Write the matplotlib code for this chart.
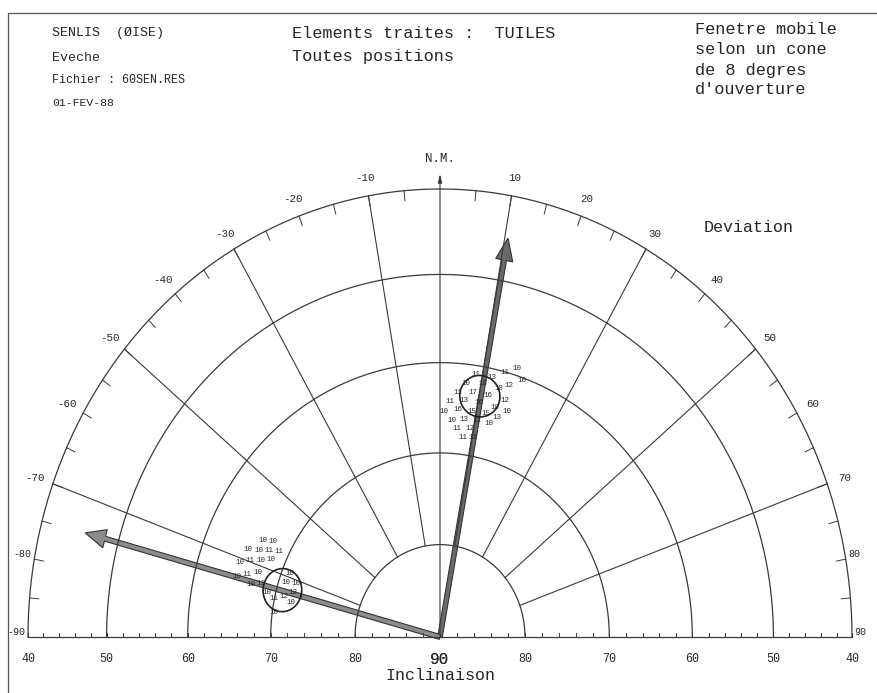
import numpy as np
import matplotlib
matplotlib.use("Agg")
import matplotlib.pyplot as plt
from matplotlib.patches import FancyArrow


# grid of the equal-area half diagram
RINGS = [40, 50, 60, 70, 80]
SPOKES = [-70, -50, -30, -10, 10, 30, 50, 70]
DEV_TICKS = [-90, -80, -70, -60, -50, -40, -30, -20, -10, 10, 20, 30, 40, 50, 60, 70, 80, 90]
INC_LABELS = [40, 50, 60, 70, 80, 90]

# window counts, cluster 1 (upper)
C1_INC = [59.2, 60.1, 60.3, 61.0, 61.0, 61.3, 62.1, 61.9, 62.0, 63.2, 63.0, 63.0, 63.1,
          64.3, 64.1, 64.0, 64.1, 65.4, 65.1, 65.1, 65.0, 64.2, 66.4, 66.2, 66.0, 66.0,
          65.1, 67.2, 67.0, 68.1, 67.9]
C1_DEV = [17.4, 14.9, 19.1, 8.5, 12.4, 16.7, 6.4, 10.5, 14.6, 4.5, 8.3, 12.2, 16.6,
          2.6, 6.4, 10.2, 14.6, 1.2, 4.9, 8.8, 12.7, 18.0, 3.4, 6.9, 10.5, 14.1,
          15.8, 5.2, 8.8, 7.1, 10.2]
C1_N = [10, 11, 10, 11, 13, 12, 10, 18, 18, 11, 17, 16, 12,
        11, 13, 16, 18, 10, 16, 15, 15, 10, 10, 13, 12, 10,
        13, 11, 12, 11, 11]

# window counts, cluster 2 (left)
C2_INC = [66.6, 67.7, 65.4, 66.6, 67.7, 68.8, 64.9, 66.0, 67.2, 68.3, 65.0, 66.2,
          67.4, 66.9, 68.0, 71.0, 70.9, 72.0, 69.0, 70.0, 71.1, 72.0, 72.0, 70.2]
C2_DEV = [-63.4, -62.1, -67.3, -66.3, -65.1, -63.9, -71.0, -69.8, -68.5, -67.3, -74.6, -73.3,
          -72.0, -75.8, -74.6, -68.8, -71.9, -71.0, -76.7, -77.9, -76.4, -74.3, -78.0, -82.4]
C2_N = [10, 10, 10, 10, 11, 11, 10, 11, 10, 10, 10, 11,
        10, 10, 11, 10, 10, 10, 10, 11, 12, 12, 10, 10]

# mean directions, confidence cones and arrows
MEAN_INC = [63.3, 70.7]
MEAN_DEV = [10.2, -74.7]
CONE = [2.3, 2.3]
ARROW_INC = [45.0, 45.7]
ARROW_DEV = [10.5, -74.9]
ARROW_FILL = ["#6a6a6a", "#8c8c8c"]

HEADER_LEFT = ["SENLIS  (ØISE)", "Eveche", "Fichier : 60SEN.RES", "01-FEV-88"]
HEADER_MID = ["Elements traites :  TUILES", "Toutes positions"]
HEADER_RIGHT = ["Fenetre mobile", "selon un cone", "de 8 degres", "d'ouverture"]

INK = "#3a3a3a"
TXT = "#262626"
FONT = "Liberation Mono"
R40 = np.sin(np.radians(25))


def proj(inc, dev):
    r = np.sin(np.radians((90 - np.asarray(inc, float)) / 2)) / R40
    d = np.radians(np.asarray(dev, float))
    return r * np.sin(d), r * np.cos(d)


def small_circle(inc, dev, a):
    b = np.radians(np.linspace(0, 360, 181))
    lat1, lon1, a = np.radians(inc), np.radians(dev), np.radians(a)
    lat2 = np.arcsin(np.sin(lat1) * np.cos(a) + np.cos(lat1) * np.sin(a) * np.cos(b))
    lon2 = lon1 + np.arctan2(np.sin(b) * np.sin(a) * np.cos(lat1),
                             np.cos(a) - np.sin(lat1) * np.sin(lat2))
    return np.degrees(lat2), np.degrees(lon2)


fig = plt.figure(figsize=(8.77, 6.93), dpi=100)
ax = fig.add_axes([0, 0, 1, 1])
ax.set_xlim(-440 / 412, 437 / 412)
ax.set_ylim(-56 / 448, 637 / 448)
ax.axis("off")

# frame
ax.plot([-432 / 412, -432 / 412, 1.2], [-0.2, 624 / 448, 624 / 448], color="#555", lw=0.9)

# rings
dev_line = np.linspace(-90, 90, 361)
for inc in RINGS:
    x, y = proj(np.full_like(dev_line, inc), dev_line)
    ax.plot(x, y, color=INK, lw=0.9)

# spokes
for d in SPOKES:
    x, y = proj([80, 40], [d, d])
    ax.plot(x, y, color=INK, lw=0.8)

# baseline and inclination ticks
x, y = proj([40, 90, 40], [-90, 0, 90])
ax.plot(x, y, color=INK, lw=0.9)
for inc in range(40, 90, 2):
    for d in (-90, 90):
        x, y = proj(inc, d)
        ax.plot([x, x], [y, y + 0.009], color=INK, lw=0.7)
for inc in INC_LABELS:
    for d in (-90, 90):
        x, _ = proj(inc, d)
        size = 11.5 if inc == 90 else 8.4
        ax.text(x, -0.05, str(inc), ha="center", va="center", fontsize=size,
                family=FONT, color=TXT)
ax.text(0, -0.087, "Inclinaison", ha="center", va="center", fontsize=12,
        family=FONT, color=TXT)

# deviation ticks on outer ring
for d in range(-85, 90, 5):
    if d == 0:
        continue
    x0, y0 = proj(40, d)
    x1, y1 = proj(41.2, d)
    ax.plot([x0, x1], [y0, y1], color=INK, lw=0.7)
for d in DEV_TICKS:
    x, y = proj(40, d)
    if abs(d) >= 80:
        ax.text(x + np.sign(d) * 0.006, y + 0.012, str(d),
                ha="left" if d > 0 else "right", va="center", fontsize=7.2,
                family=FONT, color=TXT)
    else:
        ax.text(x * 1.045, y * 1.04, str(d), ha="center", va="center", fontsize=7.8,
                family=FONT, color=TXT)
ax.text(0.75, 0.915, "Deviation", ha="center", va="center",
        fontsize=12, family=FONT, color=TXT)

# magnetic north
ax.annotate("", xy=(0, 1.04), xytext=(0, 0),
            arrowprops=dict(arrowstyle="-|>,head_length=0.5,head_width=0.12",
                            color=INK, lw=0.8))
ax.text(0, 1.068, "N.M.", ha="center", va="center", fontsize=9, family=FONT, color=TXT)

# counts
for incs, devs, ns in ((C1_INC, C1_DEV, C1_N), (C2_INC, C2_DEV, C2_N)):
    xs, ys = proj(incs, devs)
    for x, y, n in zip(xs, ys, ns):
        ax.text(x, y, str(n), ha="center", va="center", fontsize=5.4,
                family=FONT, color=TXT)

# cones
for inc, dev, a in zip(MEAN_INC, MEAN_DEV, CONE):
    ci, cd = small_circle(inc, dev, a)
    x, y = proj(ci, cd)
    ax.plot(x, y, color="#222", lw=1.2)

# arrows
for inc, dev, fc in zip(ARROW_INC, ARROW_DEV, ARROW_FILL):
    x, y = proj(inc, dev)
    ax.add_patch(FancyArrow(0, 0, x, y, width=0.011, head_width=0.042,
                            head_length=0.05, length_includes_head=True,
                            facecolor=fc, edgecolor="#333", lw=0.8))

# header
for i, s in enumerate(HEADER_LEFT):
    size = [9.6, 9.6, 8.4, 8.2][i]
    fig.text(52 / 877, 1 - [33, 58, 80, 103][i] / 693, s, ha="left", va="center",
             fontsize=size, family=FONT, color=TXT)
for i, s in enumerate(HEADER_MID):
    fig.text(292 / 877, 1 - [33, 57][i] / 693, s, ha="left", va="center",
             fontsize=12.2, family=FONT, color=TXT)
for i, s in enumerate(HEADER_RIGHT):
    fig.text(695 / 877, 1 - (30 + 20 * i) / 693, s, ha="left", va="center",
             fontsize=12.2, family=FONT, color=TXT)

fig.savefig("out.png", dpi=100)
